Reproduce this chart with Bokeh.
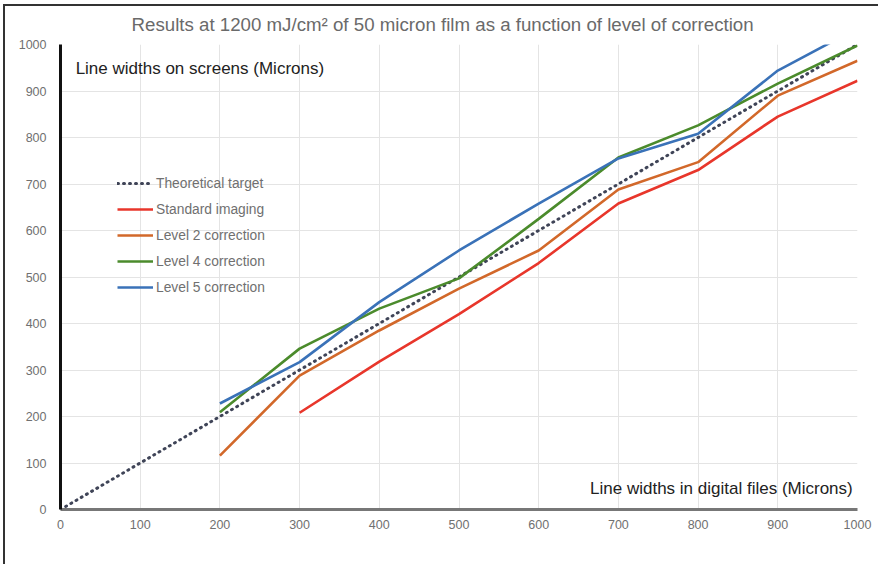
from bokeh.plotting import figure
from bokeh.models import Range1d, Label, Legend, LegendItem, FixedTicker, Title
from bokeh.embed import file_html
from bokeh.resources import INLINE

# ---- data ----
target_x = [0, 100, 200, 300, 400, 500, 600, 700, 800, 900, 1000]
target_y = [0, 100, 200, 300, 400, 500, 600, 700, 800, 900, 1000]
standard_x = [300, 400, 500, 600, 700, 800, 900, 1000]
standard_y = [208, 318, 420, 530, 658, 730, 845, 922]
corr_x = [200, 300, 400, 500, 600, 700, 800, 900, 1000]
level2_y = [116, 288, 385, 475, 557, 688, 747, 890, 965]
level4_y = [209, 346, 432, 497, 625, 757, 826, 916, 998]
level5_y = [228, 317, 446, 557, 658, 755, 808, 944, 1035]
ticks = [0, 100, 200, 300, 400, 500, 600, 700, 800, 900, 1000]

FONT = "Liberation Sans"

p = figure(width=878, height=564, output_backend="svg", toolbar_location=None,
           x_range=Range1d(0, 1000), y_range=Range1d(0, 1000),
           min_border_left=60, min_border_right=21, min_border_top=44, min_border_bottom=55)
p.outline_line_color = None
p.background_fill_color = "white"
p.border_fill_alpha = 0
p.styles = {"background": "linear-gradient(#333,#333) 3px 4px / 2px 100% no-repeat, "
                          "linear-gradient(#333,#333) 3px 4px / 100% 2px no-repeat, white"}

p.add_layout(Title(text="Results at 1200 mJ/cm\u00b2 of 50 micron film as a function of level of correction",
                   text_font=FONT, text_font_size="18.7px", text_font_style="normal",
                   text_color="#6a6a6a", align="left", offset=71, standoff=20), "above")

for ax in (p.xaxis[0], p.yaxis[0]):
    ax.ticker = FixedTicker(ticks=ticks)
    ax.major_tick_line_color = None
    ax.minor_tick_line_color = None
    ax.major_label_text_font = FONT
    ax.major_label_text_font_size = "12.5px"
    ax.major_label_text_color = "#707070"
p.yaxis.axis_line_color = "#111111"
p.yaxis.axis_line_width = 3
p.yaxis.major_label_standoff = 8
p.xaxis.axis_line_color = "#777777"
p.xaxis.axis_line_width = 3
p.xaxis.major_label_standoff = 4

p.xgrid.ticker = FixedTicker(ticks=ticks)
p.ygrid.ticker = FixedTicker(ticks=ticks)
p.grid.grid_line_color = "#e4e4e4"
p.grid.grid_line_width = 1

r_t = p.line(target_x, target_y, line_color="#3f4457", line_width=3, line_dash="1 5", line_cap="round")
r_s = p.line(standard_x, standard_y, line_color="#e8362b", line_width=2.6)
r_2 = p.line(corr_x, level2_y, line_color="#d2682a", line_width=2.6)
r_4 = p.line(corr_x, level4_y, line_color="#4b8b2c", line_width=2.6)
r_5 = p.line(corr_x, level5_y, line_color="#3a72b8", line_width=2.6)

legend = Legend(items=[
    LegendItem(label="Theoretical target", renderers=[r_t]),
    LegendItem(label="Standard imaging", renderers=[r_s]),
    LegendItem(label="Level 2 correction", renderers=[r_2]),
    LegendItem(label="Level 4 correction", renderers=[r_4]),
    LegendItem(label="Level 5 correction", renderers=[r_5]),
], location=(57, 212))
legend.border_line_color = None
legend.background_fill_alpha = 0
legend.padding = 0
legend.margin = 0
legend.spacing = 6
legend.glyph_width = 36
legend.glyph_height = 20
legend.label_height = 20
legend.label_standoff = 3
legend.label_text_font = FONT
legend.label_text_font_size = "13.8px"
legend.label_text_color = "#707070"
p.add_layout(legend, "center")

p.add_layout(Label(x=19, y=948, text="Line widths on screens (Microns)", text_font=FONT,
                   text_font_size="17px", text_color="#222222", text_baseline="middle"))
p.add_layout(Label(x=994, y=45, text="Line widths in digital files (Microns)", text_font=FONT,
                   text_font_size="17px", text_color="#222222", text_baseline="middle",
                   text_align="right"))

open("out.html", "w").write(file_html(p, INLINE))
